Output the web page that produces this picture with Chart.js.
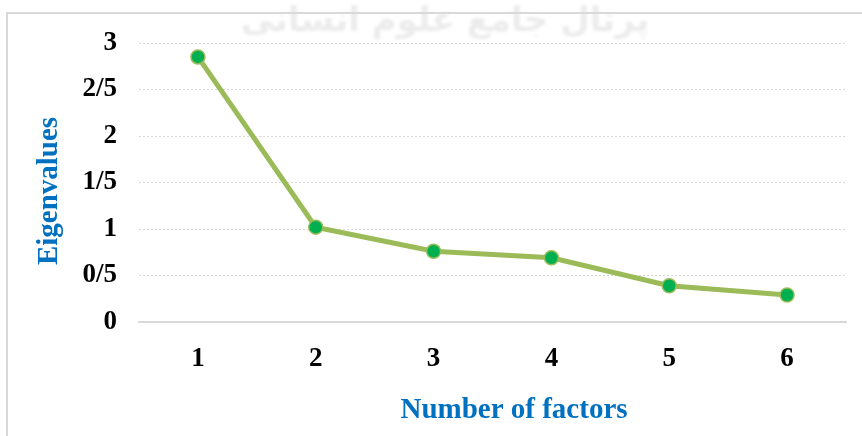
<!DOCTYPE html>
<html>
<head>
<meta charset="utf-8">
<script src="https://cdn.jsdelivr.net/npm/chart.js@4"></script>
<style>
  html, body { margin: 0; padding: 0; background: #fff; }
  #wrap { position: relative; width: 862px; height: 436px; }
</style>
</head>
<body>
<div id="wrap"><canvas id="scree"></canvas></div>
<script>
const factors = ['1', '2', '3', '4', '5', '6'];
const eigenvalues = [2.85, 1.02, 0.76, 0.69, 0.39, 0.29];
const yTickLabels = ['0', '0/5', '1', '1/5', '2', '2/5', '3'];
const xTitle = 'Number of factors';
const yTitle = 'Eigenvalues';
const watermark = 'پرتال جامع علوم انسانی';

const serif = "'Liberation Serif', 'Times New Roman', serif";

// frame, faint watermark behind the plot, axis titles
const decor = {
  id: 'decor',
  beforeDraw(chart) {
    const ctx = chart.ctx;
    ctx.save();
    ctx.filter = 'blur(1.5px)';
    ctx.fillStyle = 'rgba(150,150,150,0.18)';
    ctx.font = "bold 34px 'DejaVu Sans'";
    ctx.textAlign = 'center';
    ctx.textBaseline = 'middle';
    ctx.fillText(watermark, 445, 22);
    ctx.filter = 'none';
    ctx.strokeStyle = '#d9d9d9';
    ctx.lineWidth = 2;
    ctx.beginPath();
    ctx.moveTo(7, 440);
    ctx.lineTo(7, 13);
    ctx.lineTo(870, 13);
    ctx.stroke();
    ctx.restore();
  },
  afterDraw(chart) {
    const ctx = chart.ctx;
    ctx.save();
    ctx.fillStyle = '#0070c0';
    ctx.font = 'bold 29px ' + serif;
    ctx.textAlign = 'center';
    ctx.textBaseline = 'middle';
    ctx.fillText(xTitle, 514, 411);
    ctx.translate(50, 191);
    ctx.rotate(-Math.PI / 2);
    ctx.fillText(yTitle, 0, 0);
    ctx.restore();
  }
};

new Chart(document.getElementById('scree'), {
  type: 'line',
  data: {
    labels: factors,
    datasets: [{
      data: eigenvalues,
      borderColor: '#9bbb59',
      borderWidth: 5,
      pointBackgroundColor: '#00b050',
      pointBorderColor: '#9bbb59',
      pointBorderWidth: 1.5,
      pointRadius: 7,
      tension: 0
    }]
  },
  options: {
    responsive: true,
    maintainAspectRatio: false,
    animation: false,
    layout: { padding: { top: 43, right: 16, left: 0, bottom: 0 } },
    scales: {
      x: {
        offset: true,
        grid: { display: false, drawTicks: false },
        border: { color: '#d9d9d9', width: 2 },
        ticks: { color: '#000', padding: 21, font: { family: serif, size: 27, weight: 'bold' } },
        afterFit(scale) { scale.height = 114; }
      },
      y: {
        min: 0,
        max: 3,
        grid: { color: '#d9d9d9', drawTicks: false, lineWidth: 1 },
        border: { display: false, dash: [2, 2] },
        ticks: {
          stepSize: 0.5,
          color: '#000',
          padding: 22,
          font: { family: serif, size: 27, weight: 'bold' },
          callback: (v, i) => yTickLabels[i]
        },
        afterFit(scale) { scale.width = 139; }
      }
    },
    plugins: {
      legend: { display: false },
      tooltip: { enabled: false }
    }
  },
  plugins: [decor]
});
</script>
</body>
</html>
